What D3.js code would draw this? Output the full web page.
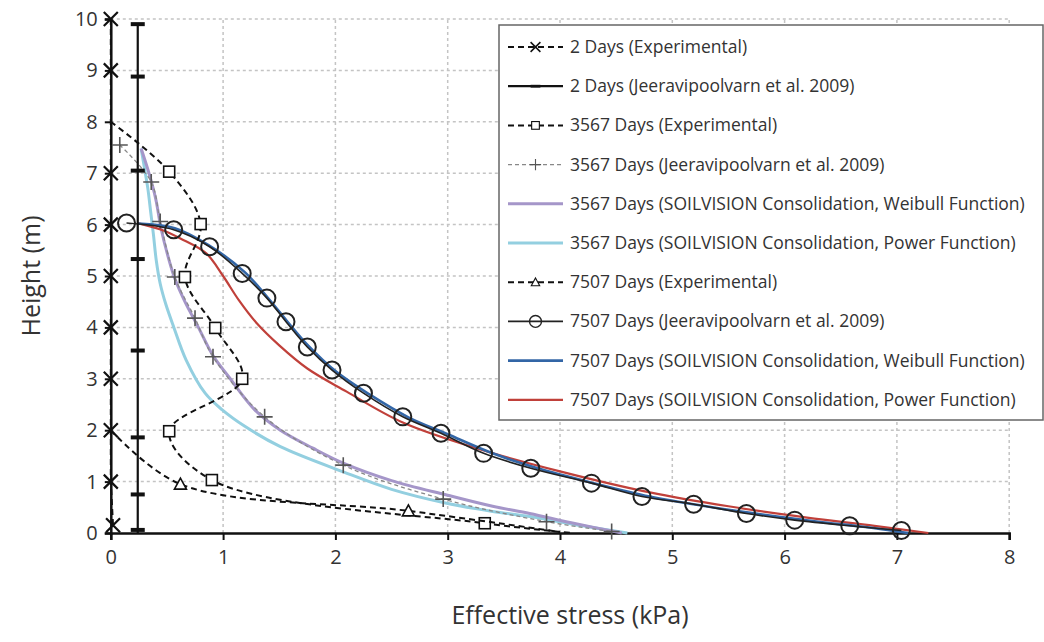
<!DOCTYPE html>
<html><head><meta charset="utf-8">
<script src="https://cdn.jsdelivr.net/npm/d3@7"></script>
<style>body{margin:0;background:#fff}svg{display:block}text{font-family:"Open Sans","Noto Sans",sans-serif;fill:#333}</style>
</head><body><svg id="c" width="1044" height="642"></svg>
<script>
// ---------- DATA ----------
const xTicks = [0,1,2,3,4,5,6,7,8];
const yTicks = [0,1,2,3,4,5,6,7,8,9,10];

// 2 Days (Experimental)
const exp2X = [0,0,0,0,0,0,0,0,0,0.02];
const exp2Y = [10,9,7,6,5,4,3,2,1,0.15];
// 2 Days (Jeeravipoolvarn et al. 2009)
const jee2LineX = [0.24,0.24];
const jee2LineY = [9.9,0];
const jee2MarkX = [0.24,0.24,0.24,0.24,0.24,0.24,0.24,0.24];
const jee2MarkY = [9.9,8.88,7.05,5.33,3.55,1.86,0.75,0.06];
// 3567 Days (Experimental)
const exp3567X = [0.0,0.52,0.80,0.66,0.93,1.17,0.52,0.90,3.33,4.10];
const exp3567Y = [8.0,7.03,6.01,4.98,3.99,3.0,1.98,1.03,0.19,0.0];
const exp3567Mark = [0,1,1,1,1,1,1,1,1,0];
// 3567 Days (Jeeravipoolvarn et al. 2009)
const jee3567X = [0.08,0.36,0.44,0.57,0.75,0.91,1.37,2.07,2.96,3.88,4.46];
const jee3567Y = [7.55,6.83,6.06,4.98,4.18,3.43,2.26,1.32,0.66,0.22,0.03];
// 3567 Days SOILVISION Weibull
const sv3567WX = [0.27,0.34,0.40,0.45,0.52,0.57,0.66,0.78,0.91,1.05,1.28,1.51,1.80,2.07,2.50,2.99,3.40,3.73,4.10,4.55];
const sv3567WY = [7.48,7.0,6.5,5.9,5.3,4.95,4.5,4.0,3.45,3.04,2.4,2.0,1.65,1.36,1.02,0.74,0.52,0.38,0.2,0.0];
// 3567 Days SOILVISION Power
const sv3567PX = [0.27,0.30,0.33,0.355,0.38,0.405,0.44,0.49,0.56,0.67,0.84,0.99,1.19,1.51,2.07,2.50,2.99,3.40,3.73,4.20,4.60];
const sv3567PY = [7.48,7.1,6.7,6.25,5.8,5.3,4.85,4.45,4.01,3.37,2.72,2.4,2.08,1.68,1.19,0.85,0.58,0.42,0.32,0.14,0.0];
// 7507 Days (Experimental)
const exp7507X = [0.0,0.62,2.65,4.0];
const exp7507Y = [2.0,0.95,0.43,0.02];
const exp7507Mark = [0,1,1,0];
// 7507 Days (Jeeravipoolvarn et al. 2009)
const jee7507X = [0.14,0.56,0.88,1.17,1.39,1.56,1.75,1.97,2.25,2.60,2.94,3.32,3.74,4.28,4.73,5.19,5.66,6.09,6.58,7.04];
const jee7507Y = [6.03,5.9,5.57,5.05,4.57,4.11,3.62,3.17,2.72,2.26,1.94,1.55,1.26,0.97,0.71,0.56,0.38,0.25,0.14,0.05];
// 7507 Days SOILVISION Weibull
const sv7507WX = [0.24,0.57,0.87,1.19,1.40,1.57,1.76,2.00,2.30,2.65,3.00,3.40,3.80,4.30,4.80,5.30,5.80,6.30,6.70,7.10];
const sv7507WY = [6.02,5.93,5.6,5.08,4.57,4.12,3.64,3.15,2.7,2.25,1.92,1.55,1.26,0.97,0.71,0.52,0.36,0.22,0.12,0.0];
// 7507 Days SOILVISION Power
const sv7507PX = [0.24,0.45,0.62,0.85,1.00,1.14,1.30,1.50,1.75,2.10,2.60,3.30,4.00,4.80,5.50,6.20,6.80,7.28];
const sv7507PY = [6.03,5.9,5.73,5.44,5.0,4.53,4.08,3.65,3.2,2.75,2.15,1.62,1.2,0.79,0.52,0.3,0.14,0.0];

const legendLabels = [
 "2 Days (Experimental)",
 "2 Days (Jeeravipoolvarn et al. 2009)",
 "3567 Days (Experimental)",
 "3567 Days (Jeeravipoolvarn et al. 2009)",
 "3567 Days (SOILVISION Consolidation, Weibull Function)",
 "3567 Days (SOILVISION Consolidation, Power Function)",
 "7507 Days (Experimental)",
 "7507 Days (Jeeravipoolvarn et al. 2009)",
 "7507 Days (SOILVISION Consolidation, Weibull Function)",
 "7507 Days (SOILVISION Consolidation, Power Function)"
];
const xTitle = "Effective stress (kPa)";
const yTitle = "Height (m)";

// ---------- DRAW ----------
const svg = d3.select("#c");
const L=110.8, R=1009.2, T=19, B=533;
const x = d3.scaleLinear().domain([0,8]).range([L,R]);
const y = d3.scaleLinear().domain([0,10]).range([B,T]);
const zip = (xs,ys)=>xs.map((v,i)=>[v,ys[i]]);

// grid
const grid = svg.append("g");
grid.selectAll(".gx").data(xTicks.filter(d=>d>0)).join("line")
 .attr("x1",d=>x(d)).attr("x2",d=>x(d)).attr("y1",y(0)).attr("y2",y(10))
 .attr("stroke","#c4c4c4").attr("stroke-width",1.5).attr("stroke-dasharray","3,3");
grid.selectAll(".gy").data(yTicks.filter(d=>d>0)).join("line")
 .attr("y1",d=>y(d)).attr("y2",d=>y(d)).attr("x1",x(0)).attr("x2",x(8))
 .attr("stroke","#c4c4c4").attr("stroke-width",1.5).attr("stroke-dasharray","3,3");

// axes
const gx = svg.append("g").attr("transform",`translate(0,${B})`)
 .call(d3.axisBottom(x).tickValues(xTicks).tickSize(7).tickPadding(10).tickFormat(d3.format("d")));
const gy = svg.append("g").attr("transform",`translate(${L},0)`)
 .call(d3.axisLeft(y).tickValues(yTicks).tickSize(6).tickPadding(7).tickFormat(d3.format("d")));
[gx,gy].forEach(g=>{
  g.select(".domain").attr("stroke","#111").attr("stroke-width",2.5);
  g.selectAll(".tick line").attr("stroke","#111").attr("stroke-width",2);
  g.selectAll(".tick text").style("font-size","20px").style("fill","#333");
});

svg.append("text").attr("x",570).attr("y",624).attr("text-anchor","middle").style("font-size","25px").text(xTitle);
svg.append("text").attr("transform","translate(40,276) rotate(-90)").attr("text-anchor","middle").style("font-size","25px").text(yTitle);

const curve = d3.line().x(d=>x(d[0])).y(d=>y(d[1])).curve(d3.curveCatmullRom.alpha(0.5));
const lin = d3.line().x(d=>x(d[0])).y(d=>y(d[1]));

const plot = svg.append("g");
function path(pts,gen,stroke,w,dash){
  return plot.append("path").attr("d",gen(pts)).attr("fill","none").attr("stroke",stroke)
   .attr("stroke-width",w).attr("stroke-dasharray",dash||null);
}
// markers
const sym = {
  cross:(g,s)=>g.append("path").attr("d",`M${-s},${-s}L${s},${s}M${-s},${s}L${s},${-s}`).attr("stroke","#111").attr("stroke-width",2.2).attr("fill","none"),
  dash:(g,s)=>g.append("rect").attr("x",-7).attr("y",-2).attr("width",14).attr("height",4).attr("fill","#111"),
  square:(g,s)=>g.append("rect").attr("x",-5.5).attr("y",-5.5).attr("width",11).attr("height",11).attr("fill","#fff").attr("stroke","#111").attr("stroke-width",1.6),
  plus:(g,s)=>g.append("path").attr("d","M-8,0L8,0M0,-8L0,8").attr("stroke","#555").attr("stroke-width",1.6),
  tri:(g,s)=>g.append("path").attr("d","M0,-6L6,5L-6,5Z").attr("fill","#fff").attr("stroke","#111").attr("stroke-width",1.6),
  circle:(g,s)=>g.append("circle").attr("r",8.5).attr("fill","none").attr("stroke","#222").attr("stroke-width",2)
};
function marks(pts,kind,size){
  pts.forEach(p=>{ const g=plot.append("g").attr("transform",`translate(${x(p[0])},${y(p[1])})`); sym[kind](g,size); });
}

// 3567 fitted curves
path(zip(sv3567PX,sv3567PY),curve,"#93cfe0",3);
path(zip(sv3567WX,sv3567WY),curve,"#a596c9",3);
// 3567 Jeeravipoolvarn
path(zip(jee3567X,jee3567Y),curve,"#888",1.3,"4,3");
marks(zip(jee3567X,jee3567Y),"plus");
// 7507 fitted
path(zip(sv7507PX,sv7507PY),curve,"#c0403a",2.2);
path(zip(sv7507WX,sv7507WY),curve,"#3366a6",2.6);
// 7507 Jeeravipoolvarn
path(zip(jee7507X,jee7507Y),curve,"#222",1.6);
marks(zip(jee7507X,jee7507Y),"circle");
// 2 days
path(zip(exp2X,exp2Y),lin,"#111",2,"6,4");
marks(zip(exp2X,exp2Y),"cross",7);
path(zip(jee2LineX,jee2LineY),lin,"#111",2.2);
marks(zip(jee2MarkX,jee2MarkY),"dash");
// experimental
path(zip(exp3567X,exp3567Y),curve,"#111",2,"6,4");
marks(zip(exp3567X,exp3567Y).filter((d,i)=>exp3567Mark[i]),"square");
path(zip(exp7507X,exp7507Y),curve,"#111",2,"6,4");
marks(zip(exp7507X,exp7507Y).filter((d,i)=>exp7507Mark[i]),"tri");

// legend
const lg = svg.append("g");
lg.append("rect").attr("x",499).attr("y",25).attr("width",544).attr("height",395)
  .attr("fill","#fff").attr("stroke","#666").attr("stroke-width",1.5);
const legendStyle = [
 {c:"#111",w:2,d:"6,4",m:"cross"},
 {c:"#111",w:2.2,d:null,m:"dash"},
 {c:"#111",w:2,d:"6,4",m:"square"},
 {c:"#888",w:1.3,d:"4,3",m:"plus"},
 {c:"#a596c9",w:3,d:null,m:null},
 {c:"#93cfe0",w:3,d:null,m:null},
 {c:"#111",w:2,d:"6,4",m:"tri"},
 {c:"#222",w:1.6,d:null,m:"circle"},
 {c:"#3366a6",w:2.6,d:null,m:null},
 {c:"#c0403a",w:2.2,d:null,m:null}
];
legendLabels.forEach((lab,i)=>{
  const cy = 47 + i*39.2;
  const st = legendStyle[i];
  lg.append("line").attr("x1",508).attr("x2",563).attr("y1",cy).attr("y2",cy)
    .attr("stroke",st.c).attr("stroke-width",st.w).attr("stroke-dasharray",st.d);
  if(st.m){ const g=lg.append("g").attr("transform",`translate(535.5,${cy}) scale(0.7)`); sym[st.m](g,7); }
  lg.append("text").attr("x",570).attr("y",cy+6).style("font-size","17.5px").text(lab);
});
</script></body></html>
